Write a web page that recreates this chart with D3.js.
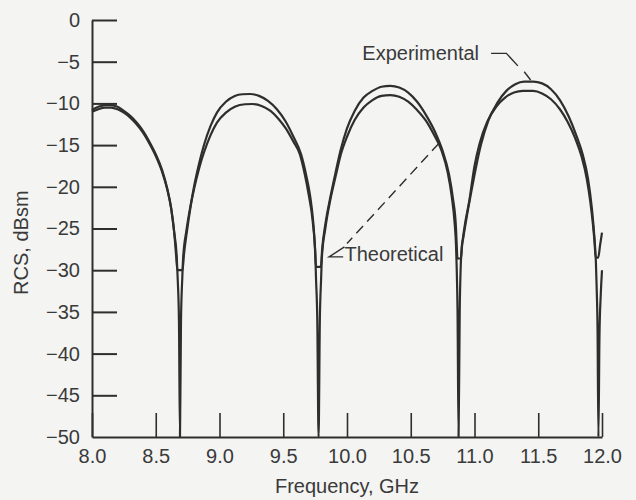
<html>
  <meta charset="utf-8" />
  <script src="https://d3js.org/d3.v7.min.js"></script>
  <style>
    body { margin: 0; background: #f4f4f2; }
    svg { display: block; background: #f4f4f2; }
    text { font-family: "Liberation Sans", Arial, sans-serif; fill: #3a3a3a; }
  </style>
  <body>
    <svg width="636" height="500" id="chart"></svg>
  </body>
  <script>
    // values: frequency (GHz) / RCS (dBsm)
    const xTicks = [8.0, 8.5, 9.0, 9.5, 10.0, 10.5, 11.0, 11.5, 12.0];
    const yTicks = [0, -5, -10, -15, -20, -25, -30, -35, -40, -45, -50];

    const theoFreq = [8.00, 8.05, 8.10, 8.15, 8.20, 8.25, 8.30, 8.35, 8.40, 8.45, 8.50, 8.55, 8.59, 8.62, 8.645, 8.665, 8.672, 8.682, 8.69,
      8.698, 8.708, 8.715, 8.74, 8.77, 8.80, 8.84, 8.88, 8.93, 8.98, 9.05, 9.12, 9.20, 9.26, 9.33, 9.40, 9.46, 9.52, 9.58, 9.63, 9.67,
      9.70, 9.73, 9.752, 9.757, 9.767, 9.777, 9.787, 9.797, 9.803, 9.83, 9.87, 9.91, 9.95, 10.00, 10.06, 10.13, 10.20, 10.27, 10.34, 10.41, 10.48,
      10.55, 10.62, 10.68, 10.74, 10.79, 10.82, 10.845, 10.855, 10.86, 10.867, 10.875, 10.884, 10.892, 10.90, 10.92, 10.96, 11.00, 11.04, 11.10,
      11.17, 11.24, 11.31, 11.38, 11.46, 11.53, 11.60, 11.67, 11.73, 11.79, 11.84, 11.88, 11.91, 11.935, 11.952, 11.958, 11.965, 11.972,
      11.98, 11.99, 12.00];
    const theoRcs = [-11.0, -10.7, -10.5, -10.5, -10.7, -11.1, -11.7, -12.5, -13.5, -14.8, -16.3, -18.2, -20.3, -22.5, -25.5, -28.5, -31, -36, -50,
      -36, -31, -28.5, -25.3, -22.5, -20.3, -17.8, -15.8, -13.8, -12.3, -11.1, -10.4, -10.1, -10.07, -10.3, -10.9, -11.8, -13.0, -14.6, -16.1, -18.6,
      -21.0, -24.0, -28.5, -31, -36, -50, -36, -31, -28.5, -25.0, -21.5, -18.8, -16.2, -14.0, -12.0, -10.5, -9.6, -9.1, -9.0, -9.2, -9.8,
      -10.8, -12.1, -13.7, -15.6, -18.3, -21.0, -24.5, -27.0, -29.5, -35, -50, -35, -29.5, -27.5, -25.0, -21.6, -17.5, -14.8, -12.2,
      -10.4, -9.3, -8.7, -8.5, -8.5, -8.8, -9.5, -10.7, -12.2, -14.2, -16.4, -19.0, -22.0, -25.5, -29, -32, -37, -50,
      -38, -33, -30];

    const expFreq = [8.00, 8.05, 8.10, 8.15, 8.20, 8.25, 8.30, 8.35, 8.40, 8.45, 8.50, 8.55, 8.59, 8.62, 8.645, 8.66, 8.670, 8.710,
      8.72, 8.745, 8.77, 8.80, 8.84, 8.88, 8.93, 8.98, 9.05, 9.12, 9.18, 9.24, 9.31, 9.38, 9.45, 9.52, 9.58, 9.64, 9.68, 9.71,
      9.735, 9.75, 9.757, 9.795, 9.805, 9.83, 9.87, 9.91, 9.95, 10.00, 10.06, 10.13, 10.20, 10.27, 10.34, 10.41, 10.48, 10.55,
      10.62, 10.69, 10.75, 10.80, 10.83, 10.855, 10.862, 10.866, 10.894, 10.90, 10.91, 10.94, 10.97, 11.01, 11.05, 11.11, 11.18, 11.25,
      11.32, 11.39, 11.46, 11.53, 11.60, 11.67, 11.74, 11.80, 11.85, 11.89, 11.92, 11.94, 11.950, 11.97, 11.985, 12.00];
    const expRcs = [-10.8, -10.4, -10.2, -10.2, -10.4, -10.9, -11.5, -12.3, -13.3, -14.6, -16.1, -18.0, -20.2, -22.5, -25.5, -28.3, -30, -30,
      -28.3, -25.3, -22.7, -20.0, -17.2, -14.9, -12.7, -11.1, -9.8, -9.1, -8.9, -8.87, -9.1, -9.7, -10.7, -12.2, -14.0, -16.1, -18.6, -21.0,
      -24.2, -27.5, -29.6, -29.6, -27.5, -24.5, -21.2, -18.3, -15.6, -13.0, -10.9, -9.3, -8.5, -8.0, -7.9, -8.1, -8.7, -9.8,
      -11.4, -13.4, -15.7, -18.5, -21.3, -25, -27.5, -28.6, -28.6, -27.2, -26.3, -23.5, -21.0, -17.8, -15.0, -12.0, -9.9, -8.5,
      -7.7, -7.4, -7.4, -7.6, -8.3, -9.6, -11.6, -13.9, -16.2, -19.0, -22.5, -26.0, -28.5, -28.5, -27.0, -25.5];

    const ink = "#2e2e2e";
    const svg = d3.select("#chart");

    const x = d3.scaleLinear().domain([8, 12]).range([92, 602]);
    const y = d3.scaleLinear().domain([-50, 0]).range([437, 20]);

    const yAxis = svg.append("g")
      .attr("transform", "translate(92,0)")
      .call(d3.axisLeft(y).tickValues(yTicks).tickSizeInner(-25).tickSizeOuter(0).tickPadding(12));

    const xAxis = svg.append("g")
      .attr("transform", "translate(0,437)")
      .call(d3.axisBottom(x).tickValues(xTicks).tickSizeInner(-24).tickSizeOuter(0).tickPadding(12)
        .tickFormat(d3.format(".1f")));

    [xAxis, yAxis].forEach((g) => {
      g.selectAll("path, line").attr("stroke", ink).attr("stroke-width", 2);
      g.selectAll("text")
        .attr("font-family", "Liberation Sans, Arial, sans-serif")
        .attr("font-size", 20)
        .attr("fill", "#3a3a3a");
    });
    xAxis.selectAll(".tick line").attr("stroke-width", 1.6);
    yAxis.selectAll(".tick").filter((d) => d === -50).select("line").remove();

    const line = d3.line().curve(d3.curveMonotoneX);

    svg.append("path")
      .attr("d", line(theoFreq.map((f, i) => [x(f), y(theoRcs[i])])))
      .attr("fill", "none").attr("stroke", ink).attr("stroke-width", 2.2);

    svg.append("path")
      .attr("d", line(expFreq.map((f, i) => [x(f), y(expRcs[i])])))
      .attr("fill", "none").attr("stroke", ink).attr("stroke-width", 2.2);

    // annotations
    const straight = d3.line();
    svg.append("text").attr("x", x(10.12)).attr("y", y(-4.8)).attr("font-size", 20).text("Experimental");
    svg.append("path")
      .attr("d", straight([[x(11.13), y(-4.0)], [x(11.25), y(-4.0)], [x(11.34), y(-5.5)]]))
      .attr("fill", "none").attr("stroke", ink).attr("stroke-width", 1.4);
    svg.append("path")
      .attr("d", straight([[x(11.39), y(-6.2)], [x(11.44), y(-7.2)]]))
      .attr("fill", "none").attr("stroke", ink).attr("stroke-width", 1.4);

    svg.append("text").attr("x", x(9.98)).attr("y", y(-28.9)).attr("font-size", 20).text("Theoretical");
    svg.append("path")
      .attr("d", straight([[x(9.98), y(-27.2)], [x(9.86), y(-28.4)], [x(9.97), y(-28.4)]]))
      .attr("fill", "none").attr("stroke", ink).attr("stroke-width", 1.4);
    svg.append("path")
      .attr("d", straight([[x(10.72), y(-14.8)], [x(10.0), y(-26.8)]]))
      .attr("fill", "none").attr("stroke", ink).attr("stroke-width", 1.4)
      .attr("stroke-dasharray", "10,6");

    svg.append("text")
      .attr("transform", `translate(28,${y(-26.7)}) rotate(-90)`)
      .attr("text-anchor", "middle").attr("font-size", 20)
      .text("RCS, dBsm");

    svg.append("text")
      .attr("x", x(10.0)).attr("y", 493)
      .attr("text-anchor", "middle").attr("font-size", 20)
      .text("Frequency, GHz");
  </script>
</html>
